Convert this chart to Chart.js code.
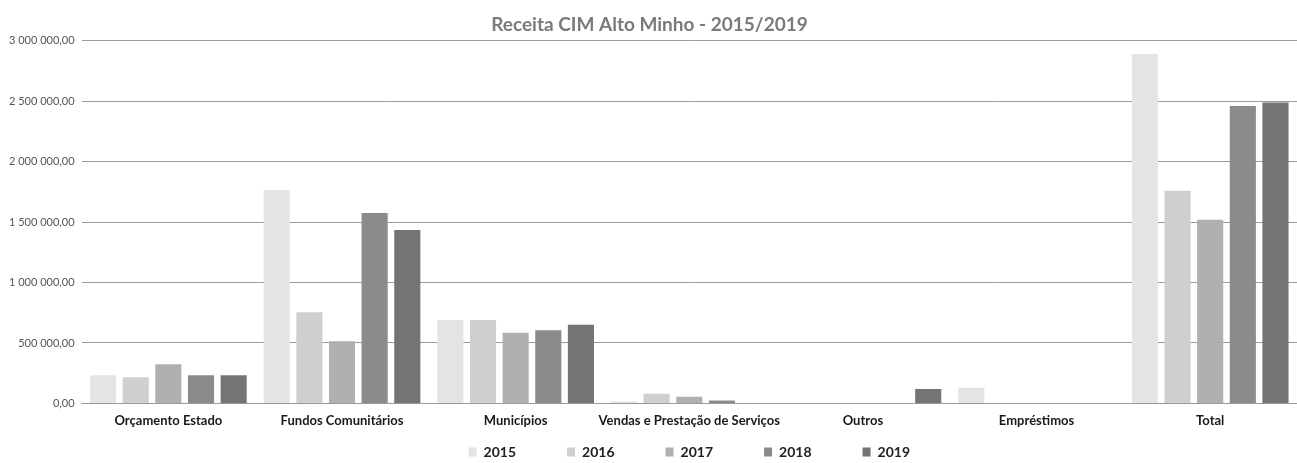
<!DOCTYPE html>
<html lang="pt">
<head>
<meta charset="UTF-8">
<title>Receita CIM Alto Minho - 2015/2019</title>
<script src="https://cdn.jsdelivr.net/npm/chart.js"></script>
<style>
  html, body { margin: 0; padding: 0; background: #ffffff; }
  #wrap { width: 1297px; height: 463px; }
</style>
</head>
<body>
<div id="wrap"><canvas id="chart"></canvas></div>
<script>
// categories and yearly values (euros)
const categories = ['Orçamento Estado', 'Fundos Comunitários', 'Municípios',
  'Vendas e Prestação de Serviços', 'Outros', 'Empréstimos', 'Total'];
const years = ['2015', '2016', '2017', '2018', '2019'];

const v2015 = [232000, 1766000, 690000, 15000, 0, 130000, 2890000];
const v2016 = [216000, 755000, 690000, 80000, 0, 0, 1760000];
const v2017 = [323000, 514000, 585000, 55000, 0, 0, 1520000];
const v2018 = [232000, 1575000, 605000, 25000, 0, 0, 2460000];
const v2019 = [232000, 1434000, 650000, 0, 120000, 0, 2490000];

const yTicks = [0, 500000, 1000000, 1500000, 2000000, 2500000, 3000000];

const colors = ['#e4e4e4', '#cfcfcf', '#b0b0b0', '#8b8b8b', '#747474'];
const series = [v2015, v2016, v2017, v2018, v2019];

// "3 000 000,00" style labels
function fmt(v) {
  const parts = v.toFixed(2).split('.');
  return parts[0].replace(/\B(?=(\d{3})+(?!\d))/g, ' ') + ',' + parts[1];
}

// legend items sit far apart in the original; pad with no-break spaces
const legendFont = 'bold 14px Lato';
const mctx = document.createElement('canvas').getContext('2d');
mctx.font = legendFont;
const nbspW = mctx.measureText('\u00a0').width || 3;
const gapPad = '\u00a0'.repeat(Math.round(52 / nbspW));

// nudge the legend a few px lower, the scan has it almost at the edge
const legendShift = {
  id: 'legendShift',
  afterLayout(chart) {
    if (chart.legend) { chart.legend.top += 6; chart.legend.bottom += 6; }
  }
};

new Chart(document.getElementById('chart'), {
  type: 'bar',
  data: {
    labels: categories,
    datasets: years.map((y, i) => ({
      label: y,
      data: series[i],
      backgroundColor: colors[i],
      borderWidth: 0,
      barPercentage: 0.8,
      categoryPercentage: 0.94
    }))
  },
  plugins: [legendShift],
  options: {
    responsive: true,
    maintainAspectRatio: false,
    animation: false,
    layout: { padding: { top: 13, right: 0, bottom: 0, left: 2 } },
    plugins: {
      title: {
        display: true,
        text: 'Receita CIM Alto Minho - 2015/2019',
        color: '#7a7a7a',
        font: { family: 'Lato', size: 19, weight: 'bold' },
        padding: { top: 0, bottom: 5 }
      },
      legend: {
        position: 'bottom',
        fullSize: false,
        labels: {
          color: '#222',
          font: { family: 'Lato', size: 14, weight: 'bold' },
          boxWidth: 8,
          boxHeight: 9,
          padding: 0,
          generateLabels: chart => {
            const items = Chart.defaults.plugins.legend.labels.generateLabels(chart);
            items.forEach((it, i) => { if (i < items.length - 1) it.text += gapPad; });
            return items;
          }
        }
      },
      tooltip: { enabled: false }
    },
    scales: {
      x: {
        grid: { display: false, drawTicks: false },
        border: { color: '#9a9a9a' },
        ticks: {
          color: '#1a1a1a',
          font: { family: 'Lato', size: 13, weight: 'bold' },
          maxRotation: 0,
          autoSkip: false,
          padding: 10
        }
      },
      y: {
        min: 0,
        max: 3000000,
        afterBuildTicks: axis => { axis.ticks = yTicks.map(v => ({ value: v })); },
        grid: { color: '#9c9c9c', drawTicks: false },
        border: { display: false },
        ticks: {
          color: '#555',
          font: { family: 'Lato', size: 11 },
          padding: 7,
          callback: v => fmt(v)
        }
      }
    }
  }
});
</script>
</body>
</html>
